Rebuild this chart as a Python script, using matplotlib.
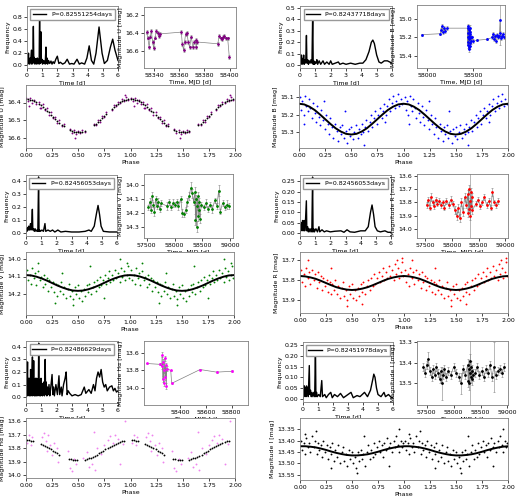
import matplotlib
matplotlib.use("Agg")
import matplotlib.pyplot as plt

plt.rcParams.update({
    "font.size": 4.5,
    "axes.linewidth": 0.6,
    "axes.edgecolor": "0.5",
    "xtick.major.size": 2,
    "ytick.major.size": 2,
    "xtick.major.width": 0.5,
    "ytick.major.width": 0.5,
    "xtick.major.pad": 1.5,
    "ytick.major.pad": 1.5,
    "axes.labelpad": 1.5,
})

# ---------------- periodograms (frequency, power) ----------------
pg_u_x = [0.0, 0.03, 0.05, 0.08, 0.1, 0.12, 0.15, 0.18, 0.2, 0.23, 0.26, 0.3, 0.32, 0.35, 0.38, 0.42, 0.45,
          0.48, 0.52, 0.55, 0.58, 0.62, 0.65, 0.68, 0.72, 0.76, 0.8, 0.83, 0.86, 0.89, 0.92, 0.95, 0.98, 1.02,
          1.06, 1.1, 1.15, 1.2, 1.25, 1.28, 1.32, 1.36, 1.42, 1.5, 1.58, 1.65, 1.72, 1.8, 1.9, 2.0, 2.1, 2.2,
          2.35, 2.5, 2.65, 2.8, 2.95, 3.1, 3.3, 3.45, 3.6, 3.8, 3.95, 4.1, 4.25, 4.4, 4.55, 4.75, 4.95, 5.1,
          5.3, 5.5, 5.65, 5.8, 6.0]
pg_u_y = [0.0, 0.18, 0.02, 0.12, 0.2, 0.03, 0.1, 0.02, 0.12, 0.05, 0.13, 0.25, 0.02, 0.1, 0.03, 0.64, 0.05,
          0.13, 0.02, 0.11, 0.03, 0.1, 0.02, 0.12, 0.04, 0.1, 0.02, 0.9, 0.03, 0.12, 0.55, 0.05, 0.1, 0.02,
          0.08, 0.03, 0.07, 0.02, 0.3, 0.03, 0.12, 0.02, 0.08, 0.03, 0.07, 0.02, 0.06, 0.03, 0.1, 0.15, 0.03,
          0.05, 0.02, 0.04, 0.1, 0.02, 0.03, 0.02, 0.1, 0.02, 0.04, 0.02, 0.12, 0.32, 0.08, 0.02, 0.2, 0.63,
          0.2, 0.03, 0.08, 0.3, 0.43, 0.25, 0.08]

pg_b_x = [0.0, 0.02, 0.05, 0.08, 0.1, 0.13, 0.16, 0.2, 0.24, 0.27, 0.3, 0.34, 0.38, 0.42, 0.45, 0.5, 0.55,
          0.6, 0.66, 0.72, 0.78, 0.83, 0.86, 0.9, 0.95, 1.0, 1.05, 1.1, 1.15, 1.25, 1.35, 1.5, 1.6, 1.75, 1.9,
          2.0, 2.1, 2.3, 2.5, 2.6, 2.8, 3.0, 3.3, 3.6, 3.9, 4.1, 4.3, 4.5, 4.65, 4.75, 4.85, 5.0, 5.15, 5.3,
          5.5, 5.7, 5.85, 6.0]
pg_b_y = [0.0, 0.09, 0.02, 0.08, 0.09, 0.01, 0.06, 0.02, 0.09, 0.01, 0.05, 0.02, 0.06, 0.26, 0.02, 0.05,
          0.01, 0.04, 0.02, 0.05, 0.02, 0.48, 0.01, 0.04, 0.01, 0.03, 0.02, 0.05, 0.01, 0.04, 0.01, 0.04,
          0.01, 0.03, 0.01, 0.04, 0.01, 0.02, 0.03, 0.01, 0.02, 0.01, 0.02, 0.01, 0.02, 0.02, 0.05, 0.12,
          0.2, 0.22, 0.19, 0.09, 0.03, 0.02, 0.04, 0.04, 0.03, 0.02]

pg_v_x = [0.0, 0.03, 0.06, 0.1, 0.14, 0.18, 0.22, 0.26, 0.3, 0.33, 0.37, 0.42, 0.45, 0.5, 0.55, 0.6, 0.66,
          0.72, 0.78, 0.83, 0.86, 0.9, 0.95, 1.05, 1.15, 1.25, 1.3, 1.45, 1.6, 1.75, 1.9, 2.1, 2.3, 2.6, 3.0,
          3.5, 3.9, 4.15, 4.3, 4.5, 4.65, 4.75, 4.85, 4.95, 5.1, 5.5, 6.0]
pg_v_y = [0.0, 0.03, 0.01, 0.04, 0.02, 0.05, 0.02, 0.04, 0.07, 0.02, 0.04, 0.18, 0.02, 0.03, 0.01, 0.03,
          0.01, 0.02, 0.01, 0.43, 0.01, 0.02, 0.01, 0.02, 0.01, 0.07, 0.01, 0.02, 0.01, 0.02, 0.005, 0.02,
          0.005, 0.01, 0.005, 0.005, 0.01, 0.02, 0.01, 0.05, 0.15, 0.21, 0.14, 0.05, 0.01, 0.005, 0.005]

pg_r_x = [0.0, 0.03, 0.06, 0.1, 0.13, 0.17, 0.2, 0.24, 0.28, 0.31, 0.35, 0.42, 0.45, 0.5, 0.55, 0.6, 0.66,
          0.72, 0.78, 0.83, 0.86, 0.9, 0.95, 1.05, 1.15, 1.25, 1.3, 1.45, 1.6, 1.75, 2.0, 2.3, 2.7, 2.9, 3.1,
          3.3, 3.6, 4.0, 4.3, 4.5, 4.65, 4.75, 4.85, 4.95, 5.1, 5.3, 5.6, 5.8, 6.0]
pg_r_y = [0.0, 0.04, 0.01, 0.05, 0.02, 0.06, 0.01, 0.04, 0.06, 0.01, 0.04, 0.155, 0.01, 0.03, 0.005, 0.02,
          0.005, 0.02, 0.005, 0.27, 0.005, 0.02, 0.005, 0.02, 0.005, 0.03, 0.005, 0.015, 0.005, 0.01, 0.005,
          0.008, 0.01, 0.003, 0.015, 0.005, 0.003, 0.01, 0.01, 0.03, 0.1, 0.135, 0.09, 0.03, 0.01, 0.005,
          0.01, 0.003, 0.003]

pg_h_x = [0.0, 0.02, 0.04, 0.06, 0.08, 0.1, 0.12, 0.14, 0.16, 0.18, 0.2, 0.22, 0.24, 0.26, 0.28, 0.3, 0.32,
          0.34, 0.36, 0.38, 0.42, 0.44, 0.46, 0.48, 0.5, 0.52, 0.54, 0.56, 0.58, 0.6, 0.62, 0.64, 0.66, 0.68,
          0.7, 0.72, 0.74, 0.76, 0.78, 0.8, 0.83, 0.86, 0.88, 0.9, 0.92, 0.95, 0.98, 1.01, 1.04, 1.07, 1.1,
          1.13, 1.16, 1.2, 1.25, 1.28, 1.32, 1.36, 1.4, 1.45, 1.5, 1.55, 1.6, 1.7, 1.75, 1.8, 1.85, 1.95,
          2.05, 2.15, 2.2, 2.3, 2.35, 2.45, 2.55, 2.62, 2.68, 2.75, 2.85, 3.0, 3.2, 3.4, 3.6, 3.8, 3.9, 4.1,
          4.25, 4.4, 4.5, 4.6, 4.7, 4.8, 4.9, 5.0, 5.1, 5.2, 5.3, 5.45, 5.6, 5.7, 5.8, 5.9, 6.0]
pg_h_y = [0.28, 0.0, 0.22, 0.02, 0.15, 0.28, 0.01, 0.15, 0.03, 0.14, 0.02, 0.15, 0.01, 0.14, 0.03, 0.22,
          0.01, 0.15, 0.02, 0.14, 0.32, 0.01, 0.15, 0.03, 0.29, 0.02, 0.14, 0.01, 0.14, 0.02, 0.15, 0.01,
          0.13, 0.02, 0.15, 0.01, 0.12, 0.02, 0.14, 0.02, 0.43, 0.01, 0.14, 0.02, 0.12, 0.01, 0.15, 0.02,
          0.11, 0.01, 0.1, 0.02, 0.12, 0.01, 0.3, 0.02, 0.12, 0.01, 0.08, 0.02, 0.1, 0.01, 0.06, 0.18, 0.02,
          0.08, 0.01, 0.1, 0.02, 0.17, 0.02, 0.08, 0.01, 0.1, 0.15, 0.2, 0.02, 0.05, 0.03, 0.01, 0.02, 0.01,
          0.02, 0.08, 0.03, 0.06, 0.03, 0.1, 0.05, 0.15, 0.2, 0.16, 0.22, 0.12, 0.08, 0.1, 0.05, 0.08, 0.09,
          0.05, 0.07, 0.04, 0.05]

pg_i_x = [0.0, 0.03, 0.06, 0.1, 0.13, 0.17, 0.2, 0.24, 0.28, 0.31, 0.35, 0.42, 0.45, 0.5, 0.55, 0.6, 0.66,
          0.72, 0.78, 0.83, 0.86, 0.9, 0.95, 1.05, 1.15, 1.25, 1.3, 1.45, 1.55, 1.7, 1.85, 1.95, 2.1, 2.3,
          2.5, 2.7, 3.0, 3.2, 3.35, 3.6, 3.8, 4.1, 4.3, 4.5, 4.65, 4.72, 4.8, 4.9, 5.0, 5.2, 5.4, 5.5, 5.7,
          5.9, 6.0]
pg_i_y = [0.0, 0.06, 0.01, 0.06, 0.02, 0.05, 0.01, 0.06, 0.03, 0.05, 0.01, 0.155, 0.02, 0.04, 0.01, 0.03,
          0.01, 0.03, 0.01, 0.245, 0.01, 0.03, 0.01, 0.02, 0.01, 0.085, 0.01, 0.02, 0.005, 0.02, 0.03, 0.005,
          0.02, 0.01, 0.025, 0.005, 0.02, 0.03, 0.005, 0.015, 0.01, 0.03, 0.01, 0.04, 0.09, 0.115, 0.1, 0.05,
          0.02, 0.01, 0.03, 0.01, 0.02, 0.005, 0.005]

# ---------------- light curves (MJD, mag, error) ----------------
lc_u_t = [58334.0, 58335.0, 58336.1, 58337.0, 58337.9, 58338.8, 58339.7, 58340.8, 58341.8, 58342.8,
          58343.9, 58344.5, 58361.6, 58362.4, 58363.4, 58364.2, 58365.0, 58366.1, 58367.1, 58368.2,
          58369.5, 58370.8, 58372.0, 58372.9, 58373.4, 58374.0, 58390.5, 58391.8, 58393.0, 58393.9,
          58395.0, 58395.8, 58397.0, 58398.4, 58399.7]
lc_u_m = [16.39, 16.45, 16.56, 16.44, 16.38, 16.50, 16.57, 16.45, 16.38, 16.40, 16.43, 16.41, 16.39, 16.52,
          16.59, 16.50, 16.41, 16.40, 16.50, 16.56, 16.44, 16.56, 16.50, 16.48, 16.56, 16.50, 16.52, 16.43,
          16.46, 16.47, 16.44, 16.43, 16.46, 16.46, 16.67]
lc_u_e = [0.02, 0.02, 0.02, 0.02, 0.02, 0.02, 0.02, 0.02, 0.02, 0.02, 0.02, 0.02, 0.02, 0.02, 0.02, 0.02,
          0.02, 0.02, 0.02, 0.02, 0.02, 0.02, 0.02, 0.02, 0.02, 0.02, 0.02, 0.02, 0.02, 0.02, 0.02, 0.02,
          0.02, 0.02, 0.02]

lc_b_t = [57946, 58143, 58150, 58160, 58170, 58180, 58195, 58215, 58436, 58438, 58440, 58442, 58444, 58446,
          58448, 58450, 58452, 58454, 58456, 58458, 58460, 58462, 58464, 58466, 58468, 58470, 58472, 58480,
          58500, 58543, 58650, 58700, 58710, 58720, 58730, 58740, 58750, 58760, 58770, 58780, 58786, 58795,
          58805, 58815, 58825]
lc_b_m = [15.17, 15.16, 15.12, 15.08, 15.14, 15.10, 15.13, 15.10, 15.10, 15.20, 15.28, 15.08, 15.25, 15.15,
          15.33, 15.12, 15.22, 15.30, 15.18, 15.10, 15.26, 15.14, 15.21, 15.29, 15.16, 15.20, 15.24, 15.20,
          15.24, 15.23, 15.22, 15.20, 15.16, 15.22, 15.18, 15.24, 15.17, 15.20, 15.19, 15.15, 15.01, 15.21,
          15.18, 15.16, 15.20]
lc_b_e = [0.01, 0.01, 0.02, 0.02, 0.02, 0.02, 0.02, 0.02, 0.03, 0.03, 0.03, 0.03, 0.03, 0.03, 0.03, 0.03,
          0.03, 0.03, 0.03, 0.03, 0.03, 0.03, 0.03, 0.03, 0.03, 0.03, 0.03, 0.02, 0.02, 0.01, 0.01, 0.02,
          0.02, 0.02, 0.02, 0.02, 0.02, 0.02, 0.02, 0.02, 0.27, 0.02, 0.02, 0.02, 0.02]

lc_v_t = [57530, 57555, 57580, 57600, 57620, 57640, 57660, 57680, 57700, 57730, 57760, 57860, 57900, 57940,
          57980, 58010, 58040, 58070, 58110, 58140, 58170, 58200, 58230, 58260, 58290, 58320, 58340, 58365,
          58375, 58385, 58395, 58405, 58415, 58425, 58435, 58445, 58455, 58480, 58520, 58560, 58600, 58640,
          58680, 58720, 58760, 58790, 58820, 58860, 58900, 58940, 58980]
lc_v_m = [14.16, 14.12, 14.18, 14.08, 14.14, 14.19, 14.10, 14.15, 14.12, 14.17, 14.13, 14.15, 14.12, 14.16,
          14.13, 14.14, 14.12, 14.15, 14.10, 14.20, 14.21, 14.18, 14.12, 14.08, 14.02, 14.06, 14.12, 14.05,
          14.25, 14.10, 14.30, 14.15, 14.08, 14.22, 14.12, 14.18, 14.24, 14.14, 14.16, 14.13, 14.17, 14.14,
          14.17, 14.11, 14.15, 14.04, 14.19, 14.13, 14.16, 14.14, 14.15]
lc_v_e = [0.02, 0.03, 0.02, 0.03, 0.02, 0.03, 0.02, 0.02, 0.03, 0.02, 0.02, 0.03, 0.02, 0.02, 0.03, 0.02,
          0.02, 0.03, 0.02, 0.03, 0.02, 0.02, 0.03, 0.03, 0.04, 0.03, 0.02, 0.04, 0.04, 0.03, 0.04, 0.03,
          0.03, 0.04, 0.03, 0.03, 0.03, 0.02, 0.02, 0.03, 0.02, 0.02, 0.03, 0.02, 0.02, 0.04, 0.02, 0.02,
          0.02, 0.03, 0.02]

lc_r_t = [57530, 57560, 57590, 57610, 57640, 57670, 57700, 57730, 57760, 57800, 57830, 57860, 57900, 57940,
          57980, 58020, 58060, 58090, 58120, 58150, 58180, 58210, 58240, 58270, 58295, 58305, 58315, 58325,
          58336, 58345, 58355, 58365, 58375, 58385, 58450, 58490, 58530, 58570, 58610, 58650, 58690, 58730,
          58760, 58790, 58830, 58870]
lc_r_m = [13.82, 13.78, 13.84, 13.76, 13.80, 13.83, 13.78, 13.81, 13.79, 13.82, 13.80, 13.84, 13.79, 13.82,
          13.78, 13.81, 13.86, 13.90, 13.84, 13.92, 13.80, 13.87, 13.76, 13.82, 13.74, 13.88, 13.70, 13.85,
          13.79, 13.90, 13.72, 13.83, 13.76, 13.86, 13.81, 13.78, 13.83, 13.80, 13.76, 13.82, 13.79, 13.84,
          13.72, 13.80, 13.82, 13.79]
lc_r_e = [0.02, 0.02, 0.02, 0.03, 0.02, 0.02, 0.02, 0.02, 0.02, 0.02, 0.02, 0.02, 0.02, 0.02, 0.03, 0.02,
          0.03, 0.03, 0.03, 0.03, 0.03, 0.03, 0.03, 0.02, 0.03, 0.03, 0.03, 0.03, 0.30, 0.03, 0.03, 0.03,
          0.03, 0.03, 0.02, 0.02, 0.02, 0.02, 0.02, 0.02, 0.02, 0.02, 0.03, 0.02, 0.02, 0.02]

lc_h_t = [58142, 58245, 58258, 58262, 58266, 58270, 58274, 58278, 58282, 58286, 58290, 58294, 58297, 58328,
          58335, 58555, 58684, 58800]
lc_h_m = [13.72, 13.73, 13.75, 13.62, 13.90, 13.70, 13.95, 13.80, 13.66, 13.88, 13.74, 13.98, 13.78, 13.80,
          13.95, 13.79, 13.82, 13.81]
lc_h_e = [0.01, 0.01, 0.03, 0.03, 0.03, 0.03, 0.03, 0.03, 0.03, 0.03, 0.03, 0.03, 0.03, 0.01, 0.01, 0.01,
          0.01, 0.01]

lc_i_t = [57440, 57470, 57500, 57530, 57560, 57590, 57620, 57650, 57680, 57710, 57740, 57760, 57775, 57800,
          57830, 57860, 57900, 57950, 58000, 58050, 58100, 58140, 58180, 58220, 58260, 58270, 58280, 58290,
          58300, 58305, 58315, 58325, 58335, 58345, 58355, 58400, 58440, 58480, 58520, 58560, 58600, 58640,
          58680, 58710, 58750, 58780, 58820, 58860, 58900, 58934]
lc_i_m = [13.42, 13.45, 13.41, 13.38, 13.44, 13.47, 13.43, 13.46, 13.42, 13.45, 13.48, 13.44, 13.50, 13.46,
          13.43, 13.47, 13.44, 13.46, 13.42, 13.45, 13.47, 13.50, 13.43, 13.46, 13.41, 13.49, 13.43, 13.50,
          13.39, 13.45, 13.47, 13.42, 13.48, 13.44, 13.46, 13.45, 13.42, 13.46, 13.44, 13.47, 13.43, 13.45,
          13.41, 13.47, 13.42, 13.46, 13.44, 13.43, 13.45, 13.42]
lc_i_e = [0.02, 0.02, 0.02, 0.03, 0.02, 0.02, 0.02, 0.02, 0.02, 0.02, 0.02, 0.02, 0.08, 0.02, 0.02, 0.02,
          0.02, 0.02, 0.02, 0.02, 0.02, 0.05, 0.02, 0.02, 0.03, 0.03, 0.03, 0.03, 0.03, 0.16, 0.03, 0.03,
          0.03, 0.03, 0.03, 0.02, 0.02, 0.02, 0.02, 0.02, 0.02, 0.02, 0.02, 0.02, 0.12, 0.02, 0.02, 0.02,
          0.02, 0.02]

# ---------------- folded data (phase, mag) and fitted model ----------------
ph_u_p = [0.00, 0.02, 0.04, 0.06, 0.08, 0.10, 0.12, 0.14, 0.16, 0.18, 0.20, 0.22, 0.24, 0.26, 0.28, 0.30,
          0.32, 0.34, 0.36, 0.42, 0.44, 0.46, 0.48, 0.50, 0.52, 0.54, 0.56, 0.65, 0.67, 0.69, 0.71, 0.73,
          0.75, 0.77, 0.82, 0.84, 0.86, 0.88, 0.90, 0.92, 0.94, 0.96, 0.98]
ph_u_m = [16.372, 16.39, 16.375, 16.40, 16.385, 16.41, 16.395, 16.43, 16.41, 16.445, 16.43, 16.47, 16.455,
          16.49, 16.48, 16.515, 16.50, 16.535, 16.525, 16.55, 16.575, 16.555, 16.58, 16.56, 16.575, 16.555,
          16.57, 16.52, 16.53, 16.50, 16.51, 16.475, 16.485, 16.455, 16.445, 16.415, 16.42, 16.395, 16.405,
          16.38, 16.39, 16.37, 16.385]
fit_u_m = [16.380, 16.381, 16.383, 16.387, 16.392, 16.398, 16.406, 16.414, 16.424, 16.435, 16.446, 16.457,
           16.469, 16.481, 16.493, 16.504, 16.515, 16.526, 16.536, 16.558, 16.563, 16.567, 16.569, 16.570,
           16.569, 16.567, 16.563, 16.531, 16.521, 16.510, 16.499, 16.487, 16.475, 16.463, 16.435, 16.424,
           16.414, 16.406, 16.398, 16.392, 16.387, 16.383, 16.381]

ph_h_p = [0.01, 0.03, 0.05, 0.06, 0.15, 0.17, 0.19, 0.20, 0.21, 0.23, 0.25, 0.27, 0.30, 0.31, 0.40, 0.42,
          0.44, 0.46, 0.48, 0.55, 0.58, 0.60, 0.63, 0.65, 0.66, 0.68, 0.72, 0.75, 0.78, 0.80, 0.83, 0.85,
          0.88, 0.90, 0.93, 0.95]
ph_h_m = [13.76, 13.70, 13.78, 13.72, 13.72, 13.69, 13.75, 13.82, 13.70, 13.78, 13.85, 13.76, 13.80, 13.90,
          13.82, 13.95, 13.97, 13.88, 13.92, 13.87, 13.83, 13.94, 13.92, 13.68, 13.96, 13.80, 13.84, 13.78,
          13.74, 13.71, 13.76, 13.70, 13.73, 13.92, 13.77, 13.60]
fit_h_p = [0.01, 0.03, 0.05, 0.07, 0.14, 0.16, 0.18, 0.20, 0.22, 0.24, 0.26, 0.28, 0.30, 0.32, 0.41, 0.43,
           0.45, 0.47, 0.49, 0.56, 0.58, 0.60, 0.62, 0.64, 0.66, 0.68, 0.70, 0.72, 0.74, 0.76, 0.78, 0.80,
           0.82, 0.84, 0.86, 0.88, 0.90, 0.92, 0.94]
fit_h_m = [13.740, 13.741, 13.744, 13.747, 13.767, 13.775, 13.783, 13.792, 13.801, 13.810, 13.820, 13.829,
           13.838, 13.847, 13.878, 13.883, 13.886, 13.889, 13.890, 13.885, 13.881, 13.876, 13.870, 13.863,
           13.855, 13.847, 13.838, 13.829, 13.820, 13.810, 13.801, 13.792, 13.783, 13.775, 13.767, 13.760,
           13.754, 13.749, 13.745]

fit_grid = [0.0, 0.05, 0.1, 0.15, 0.2, 0.25, 0.3, 0.35, 0.4, 0.45, 0.5, 0.55, 0.6, 0.65, 0.7, 0.75, 0.8,
            0.85, 0.9, 0.95, 1.0]

ph_b_p = [0.01, 0.02, 0.03, 0.045, 0.06, 0.07, 0.085, 0.095, 0.11, 0.12, 0.135, 0.15, 0.16, 0.175, 0.19,
          0.2, 0.215, 0.23, 0.245, 0.26, 0.275, 0.29, 0.3, 0.315, 0.33, 0.345, 0.36, 0.375, 0.39, 0.4, 0.415,
          0.43, 0.445, 0.46, 0.475, 0.49, 0.5, 0.515, 0.53, 0.545, 0.56, 0.575, 0.59, 0.6, 0.615, 0.63, 0.645,
          0.66, 0.675, 0.69, 0.7, 0.715, 0.73, 0.745, 0.76, 0.775, 0.79, 0.8, 0.815, 0.83, 0.845, 0.86, 0.875,
          0.89, 0.9, 0.915, 0.93, 0.945, 0.96, 0.975, 0.99, 0.24, 0.44, 0.62, 0.82, 0.05]
ph_b_m = [15.10, 15.17, 15.12, 15.20, 15.09, 15.15, 15.18, 15.11, 15.16, 15.22, 15.13, 15.19, 15.24, 15.15,
          15.21, 15.26, 15.17, 15.23, 15.28, 15.20, 15.25, 15.31, 15.22, 15.27, 15.33, 15.25, 15.29, 15.35,
          15.27, 15.31, 15.26, 15.33, 15.29, 15.36, 15.28, 15.32, 15.27, 15.34, 15.30, 15.26, 15.33, 15.28,
          15.31, 15.25, 15.30, 15.27, 15.23, 15.29, 15.24, 15.20, 15.27, 15.22, 15.18, 15.25, 15.20, 15.16,
          15.22, 15.18, 15.14, 15.20, 15.15, 15.11, 15.18, 15.13, 15.09, 15.16, 15.12, 15.08, 15.15, 15.11,
          15.14, 15.12, 15.18, 15.37, 15.24, 15.25]
fit_b_m = [15.137, 15.141, 15.154, 15.173, 15.198, 15.225, 15.252, 15.277, 15.296, 15.309, 15.313, 15.309,
           15.296, 15.277, 15.252, 15.225, 15.198, 15.173, 15.154, 15.141, 15.137]

ph_grid = [0.01, 0.02, 0.035, 0.05, 0.06, 0.075, 0.09, 0.1, 0.115, 0.13, 0.145, 0.16, 0.17, 0.185, 0.2, 0.21,
           0.225, 0.24, 0.255, 0.27, 0.285, 0.3, 0.31, 0.325, 0.34, 0.355, 0.37, 0.385, 0.4, 0.41, 0.425,
           0.44, 0.455, 0.47, 0.485, 0.5, 0.51, 0.525, 0.54, 0.555, 0.57, 0.585, 0.6, 0.61, 0.625, 0.64,
           0.655, 0.67, 0.685, 0.7, 0.71, 0.725, 0.74, 0.755, 0.77, 0.785, 0.8, 0.81, 0.825, 0.84, 0.855,
           0.87, 0.885, 0.9, 0.91, 0.925, 0.94, 0.955, 0.97, 0.985, 0.995]

ph_v_p = ph_grid + [0.12, 0.28, 0.45, 0.62, 0.9, 0.97, 0.35, 0.75]
ph_v_m = [14.06, 14.12, 14.09, 14.14, 14.05, 14.11, 14.08, 14.15, 14.07, 14.12, 14.10, 14.16, 14.09, 14.14,
          14.11, 14.18, 14.12, 14.16, 14.13, 14.19, 14.14, 14.21, 14.15, 14.18, 14.13, 14.20, 14.16, 14.22,
          14.17, 14.14, 14.21, 14.18, 14.23, 14.16, 14.20, 14.15, 14.22, 14.18, 14.24, 14.17, 14.21, 14.15,
          14.19, 14.14, 14.20, 14.16, 14.13, 14.18, 14.12, 14.16, 14.10, 14.15, 14.12, 14.09, 14.14, 14.11,
          14.07, 14.13, 14.09, 14.12, 14.06, 14.11, 14.08, 14.13, 14.05, 14.10, 14.07, 14.12, 14.09, 14.04,
          14.11, 14.02, 14.25, 14.26, 14.04, 14.00, 14.02, 14.08, 14.22]
fit_v_m = [14.092, 14.094, 14.101, 14.111, 14.123, 14.137, 14.151, 14.163, 14.173, 14.180, 14.182, 14.180,
           14.173, 14.163, 14.151, 14.137, 14.123, 14.111, 14.101, 14.094, 14.092]

ph_r_p = ph_grid + [0.08, 0.3, 0.45, 0.6, 0.93, 0.98]
ph_r_m = [13.75, 13.81, 13.77, 13.83, 13.74, 13.79, 13.76, 13.82, 13.75, 13.80, 13.77, 13.84, 13.76, 13.81,
          13.78, 13.85, 13.79, 13.83, 13.80, 13.86, 13.81, 13.87, 13.82, 13.85, 13.80, 13.87, 13.83, 13.89,
          13.84, 13.81, 13.88, 13.85, 13.90, 13.83, 13.87, 13.82, 13.89, 13.85, 13.90, 13.84, 13.88, 13.82,
          13.86, 13.81, 13.87, 13.83, 13.80, 13.85, 13.79, 13.83, 13.77, 13.82, 13.79, 13.76, 13.81, 13.78,
          13.74, 13.80, 13.76, 13.79, 13.73, 13.78, 13.75, 13.80, 13.72, 13.77, 13.74, 13.79, 13.76, 13.71,
          13.78, 13.70, 13.74, 13.93, 13.92, 13.70, 13.69]
fit_r_m = [13.780, 13.782, 13.787, 13.794, 13.804, 13.815, 13.826, 13.836, 13.843, 13.848, 13.850, 13.848,
           13.843, 13.836, 13.826, 13.815, 13.804, 13.794, 13.787, 13.782, 13.780]

ph_i_p = ph_grid + [0.05, 0.15, 0.3, 0.55, 0.62, 0.95, 0.86]
ph_i_m = [13.40, 13.44, 13.41, 13.46, 13.39, 13.43, 13.41, 13.45, 13.38, 13.43, 13.40, 13.46, 13.41, 13.44,
          13.42, 13.47, 13.40, 13.45, 13.42, 13.48, 13.43, 13.46, 13.41, 13.49, 13.44, 13.47, 13.42, 13.50,
          13.45, 13.43, 13.49, 13.46, 13.51, 13.44, 13.48, 13.45, 13.50, 13.47, 13.52, 13.45, 13.49, 13.44,
          13.48, 13.46, 13.51, 13.45, 13.42, 13.48, 13.44, 13.47, 13.41, 13.46, 13.43, 13.40, 13.45, 13.42,
          13.47, 13.41, 13.44, 13.39, 13.43, 13.41, 13.45, 13.40, 13.43, 13.38, 13.42, 13.45, 13.40, 13.43,
          13.41, 13.37, 13.36, 13.52, 13.54, 13.38, 13.35, 13.51]
fit_i_m = [13.425, 13.425, 13.427, 13.430, 13.435, 13.441, 13.448, 13.454, 13.459, 13.463, 13.465, 13.465,
           13.463, 13.460, 13.455, 13.449, 13.442, 13.436, 13.431, 13.427, 13.425]

periods = {"U": "P=0.82551254days", "B": "P=0.82437718days", "V": "P=0.82456053days",
           "R": "P=0.82456053days", "H": "P=0.82486629days", "I": "P=0.82451978days"}


def px_axes(fig, x0, y0, x1, y1):
    W, H = 520.0, 499.0
    return fig.add_axes([x0 / W, 1 - y1 / H, (x1 - x0) / W, (y1 - y0) / H])


def draw_pgram(ax, x, y, label, ylim, yticks):
    ax.plot(x, y, color="black", lw=1.0, label=label)
    ax.set_xlim(0, 6)
    ax.set_ylim(*ylim)
    ax.set_xticks(range(7))
    ax.set_yticks(yticks)
    ax.set_xlabel("Time [d]")
    ax.set_ylabel("Frequency")
    ax.legend(loc="upper center", fontsize=4.5, handlelength=2.2, borderpad=0.4,
              fancybox=False, edgecolor="0.6", framealpha=1)


def draw_lc(ax, t, m, e, color, band, xlim, ylim, xticks, yticks):
    ax.plot(t, m, color="grey", lw=0.5)
    ax.errorbar(t, m, yerr=e, fmt="o", ms=1.0, color=color, ecolor="grey", elinewidth=0.4,
                capsize=0.8, capthick=0.4)
    ax.set_xlim(*xlim)
    ax.set_ylim(*ylim)
    ax.set_xticks(xticks)
    ax.set_yticks(yticks)
    ax.set_xlabel("Time, MJD [d]")
    ax.set_ylabel("Magnitude %s [mag]" % band)


def draw_phase(ax, p, m, color, band, ylim, yticks, fit_p=None, fit_m=None, dots=False):
    ax.scatter(p + [v + 1 for v in p], m + m, s=1.8, color=color, lw=0)
    if dots:
        ax.scatter(fit_p + [v + 1 for v in fit_p], fit_m + fit_m, s=1.8, color="black", lw=0)
    else:
        ax.plot(fit_p + [v + 1 for v in fit_p], fit_m + fit_m, color="black", lw=1.4)
    ax.set_xlim(0, 2)
    ax.set_ylim(*ylim)
    ax.set_xticks([0, 0.25, 0.5, 0.75, 1.0, 1.25, 1.5, 1.75, 2.0])
    ax.set_xticklabels(["0.00", "0.25", "0.50", "0.75", "1.00", "1.25", "1.50", "1.75", "2.00"])
    ax.set_yticks(yticks)
    ax.set_xlabel("Phase")
    ax.set_ylabel("Magnitude %s [mag]" % band)


fig = plt.figure(figsize=(5.2, 4.99), dpi=100)

# ---- U ----
draw_pgram(px_axes(fig, 27, 6, 118, 68), pg_u_x, pg_u_y, periods["U"], (-0.044, 0.975),
           [0.0, 0.2, 0.4, 0.6, 0.8])
draw_lc(px_axes(fig, 144, 7, 236, 68), lc_u_t, lc_u_m, lc_u_e, "purple", "U", (58332, 58405),
        (16.79, 16.11), [58340, 58360, 58380, 58400], [16.2, 16.4, 16.6])
draw_phase(px_axes(fig, 26, 85, 235, 148), ph_u_p + [0.03, 0.13, 0.47, 0.95],
           ph_u_m + [16.42, 16.43, 16.60, 16.355], "purple", "U", (16.66, 16.30), [16.4, 16.5, 16.6],
           ph_u_p, fit_u_m, dots=True)

# ---- B ----
draw_pgram(px_axes(fig, 300, 6, 392, 68), pg_b_x, pg_b_y, periods["B"], (-0.022, 0.515),
           [0.0, 0.1, 0.2, 0.3, 0.4, 0.5])
draw_lc(px_axes(fig, 417, 5, 505, 68), lc_b_t, lc_b_m, lc_b_e, "blue", "B", (57893, 58839),
        (15.53, 14.85), [58000, 58500], [15.0, 15.2, 15.4])
draw_phase(px_axes(fig, 299, 85, 508, 148), ph_b_p, ph_b_m, "blue", "B", (15.39, 15.03),
           [15.1, 15.2, 15.3], fit_grid, fit_b_m)

# ---- V ----
draw_pgram(px_axes(fig, 26, 175, 117, 236), pg_v_x, pg_v_y, periods["V"], (-0.026, 0.445),
           [0.0, 0.1, 0.2, 0.3, 0.4])
draw_lc(px_axes(fig, 144, 174, 233, 238), lc_v_t, lc_v_m, lc_v_e, "green", "V", (57452, 59048),
        (14.38, 13.92), [57500, 58000, 58500, 59000], [14.0, 14.1, 14.2, 14.3])
draw_phase(px_axes(fig, 26, 252, 234, 315), ph_v_p, ph_v_m, "green", "V", (14.32, 13.96),
           [14.0, 14.1, 14.2], fit_grid, fit_v_m)

# ---- R ----
draw_pgram(px_axes(fig, 300, 175, 391, 236), pg_r_x, pg_r_y, periods["R"], (-0.015, 0.28),
           [0.0, 0.05, 0.1, 0.15, 0.2, 0.25])
draw_lc(px_axes(fig, 417, 174, 508, 238), lc_r_t, lc_r_m, lc_r_e, "red", "R", (57350, 59050),
        (14.07, 13.585), [57500, 58000, 58500, 59000], [13.6, 13.7, 13.8, 13.9, 14.0])
draw_phase(px_axes(fig, 300, 252, 508, 313), ph_r_p, ph_r_m, "red", "R", (13.965, 13.66),
           [13.7, 13.8, 13.9], fit_grid, fit_r_m)

# ---- H-alpha ----
draw_pgram(px_axes(fig, 26, 341, 118, 403), pg_h_x, pg_h_y, periods["H"], (-0.047, 0.447),
           [0.0, 0.1, 0.2, 0.3, 0.4])
draw_lc(px_axes(fig, 144, 341, 248, 405), lc_h_t, lc_h_m, lc_h_e, "magenta", "H\u03b1", (58121, 58926),
        (14.2, 13.46), [58400, 58600, 58800], [13.6, 13.8, 14.0])
draw_phase(px_axes(fig, 26, 418, 235, 478), ph_h_p, ph_h_m, "violet", "H\u03b1", (14.02, 13.578),
           [13.6, 13.7, 13.8, 13.9, 14.0], fit_h_p, fit_h_m, dots=True)

# ---- I ----
draw_pgram(px_axes(fig, 303, 342, 393, 402), pg_i_x, pg_i_y, periods["I"], (-0.015, 0.265),
           [0.0, 0.05, 0.1, 0.15, 0.2, 0.25])
draw_lc(px_axes(fig, 417, 341, 508, 405), lc_i_t, lc_i_m, lc_i_e, "black", "I", (57320, 59010),
        (13.605, 13.295), [57500, 58000, 58500, 59000], [13.3, 13.4, 13.5])
draw_phase(px_axes(fig, 300, 418, 508, 480), ph_i_p, ph_i_m, "black", "I", (13.572, 13.302),
           [13.35, 13.40, 13.45, 13.50, 13.55], fit_grid, fit_i_m)

fig.savefig("out.png", dpi=100)
